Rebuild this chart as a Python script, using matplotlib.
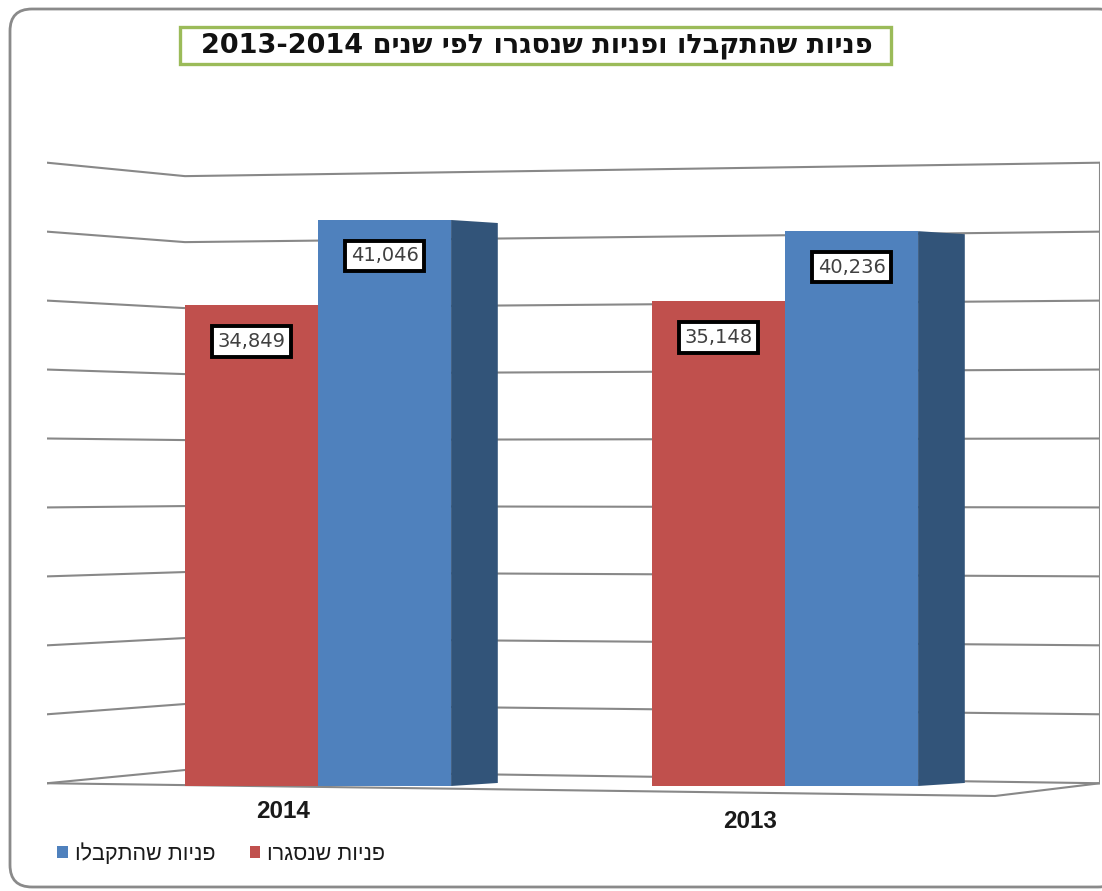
import re
import numpy as np
import matplotlib
matplotlib.use("Agg")
import matplotlib.pyplot as plt
from matplotlib.patches import Rectangle, FancyBboxPatch, Polygon

# data
years = ["2014", "2013"]
closed = [34849, 35148]      # פניות שנסגרו
received = [41046, 40236]    # פניות שהתקבלו
label_closed = "פניות שנסגרו"
label_received = "פניות שהתקבלו"
title = "פניות שהתקבלו ופניות שנסגרו לפי שנים 2013-2014"
grid_values = np.arange(0, 45001, 5000)

RED = "#C0504D"
BLUE = "#4F81BD"
BLUE_SIDE = "#325479"
GRID = "#888888"


def rtl(s):
    """matplotlib has no bidi, so put hebrew in visual order"""
    parts = re.split(r"([0-9][0-9,\-]*[0-9])", s)
    parts = [p if re.fullmatch(r"[0-9][0-9,\-]*[0-9]", p) else p[::-1] for p in parts if p]
    return "".join(parts[::-1])


HEB = ["Liberation Sans", "DejaVu Sans"]

W, H = 1102, 891
fig = plt.figure(figsize=(W / 100, H / 100), dpi=100)

# background layer (pixel coords) for frame and title box
bg = fig.add_axes([0, 0, 1, 1])
bg.set_xlim(0, W)
bg.set_ylim(H, 0)
bg.axis("off")
bg.add_patch(FancyBboxPatch((10, 9), 1110, 878, boxstyle="round,pad=0,rounding_size=22",
                            fc="white", ec="#8a8a8a", lw=2))
bg.add_patch(Rectangle((180, 27), 711, 37, fc="white", ec="#9BBB59", lw=2.4))
bg.text(537, 46, rtl(title), ha="center", va="center", fontsize=19.5,
        fontweight="bold", family=["DejaVu Sans"], color="#111111")

# main chart axes: x = category units, y = values (front plane)
px_per_cat = 467.0
px_per_val = 0.01379
x0_px, base_px = 318.0, 786.0
left_px, right_px, top_px, bot_px = 47, 1100, 150, 800
ax = fig.add_axes([left_px / W, (H - bot_px) / H, (right_px - left_px) / W, (bot_px - top_px) / H])
ax.set_xlim((left_px - x0_px) / px_per_cat, (right_px - x0_px) / px_per_cat)
ax.set_ylim((base_px - bot_px) / px_per_val, (base_px - top_px) / px_per_val)
ax.axis("off")
ax.patch.set_alpha(0)

xL = (left_px - x0_px) / px_per_cat
xC = (185 - x0_px) / px_per_cat
xR = (right_px - x0_px) / px_per_cat

# walls / gridlines with a bit of perspective
for v in grid_values:
    ax.plot([xL, xC, xR], [200 + v, 1160 + 0.957 * v, 200 + v], color=GRID, lw=1.5, zorder=1)
ax.plot([xR, xR], [200, 200 + grid_values[-1]], color=GRID, lw=1.5, zorder=1)
ax.plot([xL, (995 - x0_px) / px_per_cat, xR], [200, -725, 200], color=GRID, lw=1.5, zorder=1)

x = np.arange(len(years))
bw = 0.285
side_w = 0.1
b1 = ax.bar(x, closed, width=-bw, align="edge", color=RED, zorder=3, label=rtl(label_closed))
b2 = ax.bar(x, received, width=bw, align="edge", color=BLUE, zorder=3, label=rtl(label_received))
for xi, v in zip(x, received):
    ax.add_patch(Polygon([(xi + bw, 0), (xi + bw + side_w, 220), (xi + bw + side_w, v - 220), (xi + bw, v)],
                         closed=True, fc=BLUE_SIDE, ec="none", zorder=2))

# value labels
drop = 36 / px_per_val
for xs, vals in ((x - bw / 2, closed), (x + bw / 2, received)):
    for xi, v in zip(xs, vals):
        ax.text(xi, v - drop, f"{v:,}", ha="center", va="center", fontsize=14, color="#404040",
                family="DejaVu Sans", zorder=5,
                bbox=dict(boxstyle="square,pad=0.3", fc="white", ec="black", lw=2.8))

# category labels (shifted a little for the perspective)
for i, yr in enumerate(years):
    ypx = 812 + 10 * i
    ax.text(i - 0.075, (base_px - ypx) / px_per_val, yr, ha="center", va="center",
            fontsize=17.5, fontweight="bold", family="Liberation Sans", color="#1a1a1a")

leg = fig.legend(handles=[b2, b1], loc="center left", bbox_to_anchor=(38 / W, (H - 854) / H),
                 ncol=2, frameon=False, handlelength=0.5, handleheight=0.5, handletextpad=0.3,
                 columnspacing=1.6, prop={"family": HEB, "size": 15.5})
for t in leg.get_texts():
    t.set_color("#1a1a1a")

fig.savefig("out.png", dpi=100)
